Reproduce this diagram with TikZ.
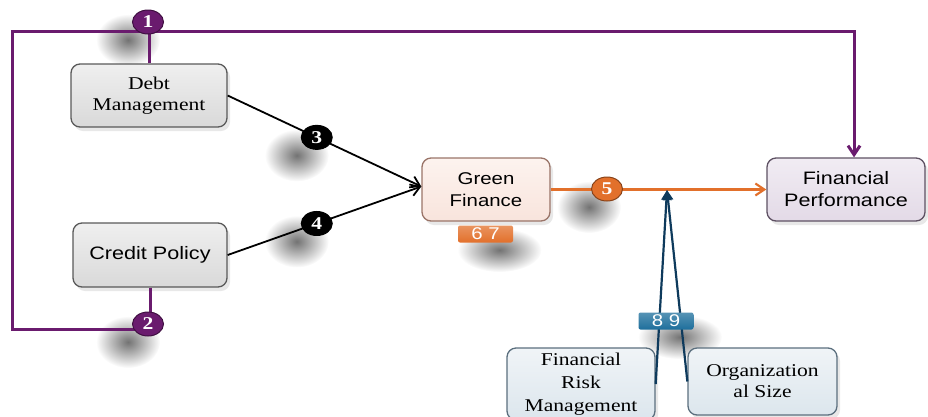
\documentclass[tikz,border=0pt]{standalone}
\usepackage{fontspec}
\setmainfont{Liberation Serif}[FakeStretch=1.2]
\setsansfont{Liberation Sans}[FakeStretch=1.2]
\usetikzlibrary{calc,shapes.geometric,arrows.meta,shadows,fadings,backgrounds}

\definecolor{plum}{HTML}{6A1B6E}
\definecolor{rust}{HTML}{E2702B}
\definecolor{navy}{HTML}{0E3A5C}
\definecolor{sea}{HTML}{1E6F9C}
\definecolor{greytop}{HTML}{EFEFEF}
\definecolor{greybot}{HTML}{D9D9D9}
\definecolor{peachtop}{HTML}{FDF3EF}
\definecolor{peachbot}{HTML}{F8E4DC}
\definecolor{peachline}{HTML}{9A7468}
\definecolor{lilactop}{HTML}{F1ECF3}
\definecolor{lilacbot}{HTML}{E3DAE7}
\definecolor{lilacline}{HTML}{5E5163}
\definecolor{bluetop}{HTML}{F0F4F7}
\definecolor{bluebot}{HTML}{DCE6ED}
\definecolor{blueline}{HTML}{5B6F7E}

\tikzfading[name=softspot, inner color=transparent!45, outer color=transparent!100]

\begin{document}
\begin{tikzpicture}[x=1pt, y=-1pt,
    box/.style={draw=#1, rounded corners=9pt, line width=1.3pt, align=center,
      inner sep=0pt, drop shadow={shadow xshift=3pt, shadow yshift=-4pt, opacity=.18}},
    greybox/.style={box=black!65, top color=greytop, bottom color=greybot},
    peachbox/.style={box=peachline, top color=peachtop, bottom color=peachbot},
    lilacbox/.style={box=lilacline, top color=lilactop, bottom color=lilacbot},
    bluebox/.style={box=blueline, top color=bluetop, bottom color=bluebot},
    numdot/.style={ellipse, draw=#1!60!black, line width=1pt, fill=#1, text=white,
      inner sep=0pt, minimum width=31pt, minimum height=24pt,
      font=\fontsize{18}{18}\selectfont\bfseries},
    numtag/.style={rounded corners=2pt, text=white, inner sep=0pt,
      top color=#1!75!white, bottom color=#1, minimum width=55pt, minimum height=17pt,
      font=\sffamily\fontsize{17}{17}\selectfont},
    blur/.style={fill=black, path fading=softspot},
    serif/.style={font=\fontsize{18}{21}\selectfont},
    sans/.style={font=\sffamily\fontsize{18}{22}\selectfont}
  ]
  \useasboundingbox (0,0) rectangle (928,416);

  % boxes
  \node[greybox, serif, minimum width=156pt, minimum height=63pt] (dm) at (149,95.5) {Debt\\Management};
  \node[greybox, sans, minimum width=154pt, minimum height=64pt] (cp) at (150,255) {Credit Policy};
  \node[peachbox, sans, font=\sffamily\fontsize{17}{22}\selectfont, minimum width=128pt, minimum height=63pt] (gf) at (486,189.5) {Green\\Finance};
  \node[lilacbox, sans, minimum width=158pt, minimum height=63pt] (fp) at (846,189.5) {Financial\\Performance};
  \node[bluebox, serif, font=\fontsize{18}{23}\selectfont, minimum width=148pt, minimum height=72pt] (frm) at (581,384) {Financial\\Risk\\Management};
  \node[bluebox, serif, minimum width=149pt, minimum height=67pt] (osz) at (762.5,381.5) {Organization\\al Size};

  \coordinate (tl) at (12,31);
  \coordinate (bl) at (12,329);
  \coordinate (gin) at ($(gf.west)+(0,-3)$);
  \coordinate (fpin) at ($(fp.north)+(8,0)$);
  \coordinate (jn) at (667,190);

  % purple loop
  \draw[plum, line width=3pt, -{Straight Barb[length=9pt,width=12pt]}]
    (cp.south) -- (cp.south |- bl) -- (bl) -- (tl) -- (fpin |- tl) -- (fpin);
  \draw[plum, line width=3pt] (dm.north) -- (dm.north |- tl);

  % black links
  \draw[line width=1.8pt, -{Straight Barb[length=9pt,width=12pt]}] (dm.east) -- node[pos=.46, numdot=black] (n3) {3} (gin);
  \draw[line width=1.8pt, -{Straight Barb[length=9pt,width=12pt]}] (cp.east) -- node[pos=.46, numdot=black] (n4) {4} (gin);

  % orange link
  \draw[rust, line width=2.2pt, -{Straight Barb[length=9pt,width=12pt]}] (gf.east) -- (fp.west);
  \node[numdot=rust] (n5) at (607,189) {5};

  % moderators
  \draw[navy, line width=2.2pt, -{Triangle[length=10pt,width=10pt]}] (frm.east) -- (jn);
  \draw[navy, line width=2.2pt, -{Triangle[length=10pt,width=10pt]}] (osz.west) -- (jn);

  \node[numdot=plum] (n1) at (148,22) {1};
  \node[numdot=plum] (n2) at (148,324) {2};
  \node[numtag=rust] (l67) at (485.5,234) {6 7};
  \node[numtag=sea] (l89) at (666,321) {8 9};

  % soft shadows
  \begin{pgfonlayer}{background}
    \foreach \n/\dx/\dy in {n1/-20/18, n2/-20/18, n3/-20/18, n4/-20/18, n5/-18/18}
      \fill[blur] ($(\n)+(\dx,\dy)$) ellipse [x radius=32, y radius=26];
    \foreach \n in {l67, l89}
      \fill[blur] ($(\n)+(14,16)$) ellipse [x radius=42, y radius=22];
  \end{pgfonlayer}
\end{tikzpicture}
\end{document}
